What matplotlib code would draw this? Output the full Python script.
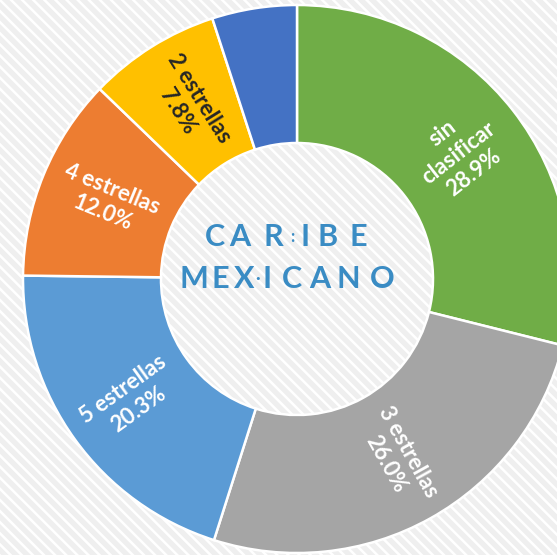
import numpy as np
import matplotlib
matplotlib.use('Agg')
from matplotlib import pyplot as plt
from matplotlib.patches import Rectangle

# Distribucion de hoteles por categoria (porcentaje)
categories = ['sin\nclasificar', '3 estrellas', '5 estrellas', '4 estrellas', '2 estrellas', '']
shares = [28.9, 26.0, 20.3, 12.0, 7.8, 5.0]
colors = ['#70AD47', '#A5A5A5', '#5B9BD5', '#ED7D31', '#FFC000', '#4472C4']
text_colors = ['white', 'white', 'white', 'white', '#262626', 'white']
logo_line1 = 'CARIBE'
logo_line2 = 'MEX·ICANO'

plt.rcParams['hatch.linewidth'] = 1.8
plt.rcParams['hatch.color'] = 'white'

fig = plt.figure(figsize=(5.57, 5.55), dpi=100)
fig.patch.set_facecolor('#f0f0f0')
ax = fig.add_axes([0, 0, 1, 1])
ax.set_facecolor('none')

# fondo rayado
bg = Rectangle((0, 0), 1, 1, transform=fig.transFigure, facecolor='#efefef',
               edgecolor='white', hatch='\\\\\\', linewidth=0, zorder=-10)
fig.patches.append(bg)

cx, cy = 297, 276
R = 274
ring = 138
wedges, _ = ax.pie(shares, colors=colors, startangle=90, counterclock=False,
                   radius=R, center=(cx, cy),
                   wedgeprops=dict(width=ring, edgecolor='white', linewidth=1.8))

# etiquetas giradas segun el angulo de cada sector
total = sum(shares)
start = 90.0
r_lab = R - ring / 2
for name, val, tc in zip(categories, shares, text_colors):
    span = 360.0 * val / total
    mid = start - span / 2
    start -= span
    if not name:
        continue
    mid = (mid + 180) % 360 - 180
    a = np.deg2rad(mid)
    rot = mid
    if rot > 90:
        rot -= 180
    elif rot < -90:
        rot += 180
    ax.text(cx + r_lab * np.cos(a), cy + r_lab * np.sin(a), f'{name}\n{val:.1f}%',
            rotation=rot, rotation_mode='anchor', ha='center', va='center',
            color=tc, fontsize=16, fontweight='bold', family='Lato',
            linespacing=1.25)

# logo central
logo_kw = dict(ha='center', va='center', fontsize=22, color='#3a8cc4',
               family='Lato', fontweight='bold')
for ch, x in zip(logo_line1, [215, 240, 273, 305, 328, 358]):
    ax.text(x, 555 - 237, ch, **logo_kw)
ax.text(292, 555 - 237, ':', **dict(logo_kw, fontsize=12))
for ch, x in zip(logo_line2, [194, 220, 244, 258, 267, 292, 320, 348, 382]):
    kw = dict(logo_kw, fontsize=12) if ch == '·' else logo_kw
    ax.text(x, 555 - 279, ch, **kw)

ax.set_xlim(0, 557)
ax.set_ylim(0, 555)
ax.set_aspect('auto')
ax.axis('off')

fig.savefig('out.png', dpi=100, facecolor=fig.get_facecolor())
